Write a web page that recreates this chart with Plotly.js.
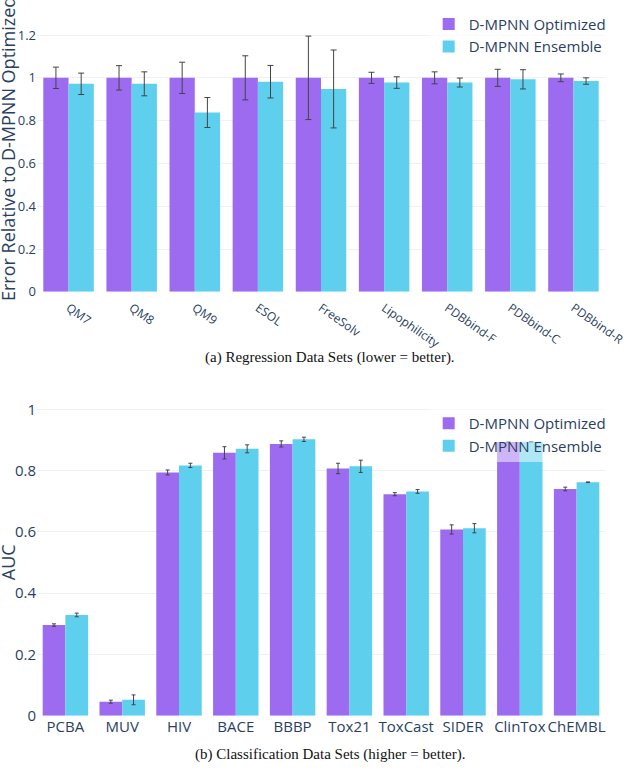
<!DOCTYPE html>
<html>
<head>
<meta charset="utf-8">
<script src="https://cdn.plot.ly/plotly-3.0.1.min.js"></script>
<style>
  body { margin: 0; background: #fff; }
  #myDiv { width: 625px; height: 768px; }
</style>
</head>
<body>
<div id="myDiv"></div>
<script>
// (a) regression data sets, error relative to D-MPNN optimized
var reg_sets = ["QM7", "QM8", "QM9", "ESOL", "FreeSolv",
        "Lipophilicity", "PDBbind-F", "PDBbind-C", "PDBbind-R"]
var reg_opt = [1, 1, 1, 1, 1, 1, 1, 1, 1]
var reg_opt_err = [0.05, 0.057, 0.073, 0.103, 0.195, 0.026, 0.028, 0.04, 0.018]
var reg_ens = [0.972, 0.972, 0.838, 0.982, 0.948, 0.978, 0.978, 0.993, 0.985]
var reg_ens_err = [0.05, 0.056, 0.07, 0.076, 0.182, 0.027, 0.021, 0.045, 0.015]

// (b) classification data sets, AUC
var cls_sets = ["PCBA", "MUV", "HIV", "BACE", "BBBP",
        "Tox21", "ToxCast", "SIDER", "ClinTox", "ChEMBL"]
var cls_opt = [0.296, 0.046, 0.794, 0.858, 0.887, 0.807, 0.723, 0.608, 0.893, 0.74]
var cls_opt_err = [0.004, 0.005, 0.008, 0.02, 0.01, 0.017, 0.005, 0.015, 0, 0.006]
var cls_ens = [0.329, 0.052, 0.817, 0.871, 0.902, 0.814, 0.732, 0.612, 0.894, 0.762]
var cls_ens_err = [0.006, 0.016, 0.007, 0.013, 0.007, 0.02, 0.006, 0.015, 0, 0.001]

var purple = '#9d6bf0'
var cyan = '#5ecfec'

function errbar(arr, w) {
    return {type: 'data', array: arr, visible: true,
            color: '#444', thickness: 1, width: w}
}

var trace1 = {
    type: 'bar', name: 'D-MPNN Optimized',
    x: reg_sets, y: reg_opt, error_y: errbar(reg_opt_err, 3),
    marker: {color: purple},
    xaxis: 'x', yaxis: 'y', legend: 'legend'
}
var trace2 = {
    type: 'bar', name: 'D-MPNN Ensemble',
    x: reg_sets, y: reg_ens, error_y: errbar(reg_ens_err, 3),
    marker: {color: cyan},
    xaxis: 'x', yaxis: 'y', legend: 'legend'
}
var trace3 = {
    type: 'bar', name: 'D-MPNN Optimized',
    x: cls_sets, y: cls_opt, error_y: errbar(cls_opt_err, 2),
    marker: {color: purple},
    xaxis: 'x2', yaxis: 'y2', legend: 'legend2'
}
var trace4 = {
    type: 'bar', name: 'D-MPNN Ensemble',
    x: cls_sets, y: cls_ens, error_y: errbar(cls_ens_err, 2),
    marker: {color: cyan},
    xaxis: 'x2', yaxis: 'y2', legend: 'legend2'
}

var data = [trace1, trace2, trace3, trace4]

var captionFont = {family: 'Liberation Serif, serif', size: 15, color: '#111'}
var titleFont = {family: 'Open Sans, sans-serif', size: 18, color: '#2a3f5f'}

var layout = {
    width: 625, height: 768,
    margin: {l: 37, r: 20, t: 0, b: 0},
    font: {family: 'Open Sans, sans-serif', color: '#2a3f5f'},
    barmode: 'group',
    bargap: 0.2, bargroupgap: 0,
    paper_bgcolor: '#fff', plot_bgcolor: '#fff',
    xaxis: {
        domain: [0, 1], anchor: 'y',
        tickangle: 35, tickfont: {size: 12}, ticklabelstandoff: 6,
        showgrid: false, automargin: false
    },
    yaxis: {
        domain: [0.620, 0.992], anchor: 'x',
        range: [0, 1.335], dtick: 0.2,
        tickfont: {size: 13}, gridcolor: '#eef0f3',
        zeroline: false, automargin: false
    },
    xaxis2: {
        domain: [0, 1], anchor: 'y2',
        tickangle: 0, tickfont: {size: 15},
        showgrid: false, automargin: false
    },
    yaxis2: {
        domain: [0.068, 0.487], anchor: 'x2',
        range: [0, 1.05], dtick: 0.2,
        tickfont: {size: 15}, gridcolor: '#eef0f3',
        zeroline: false, automargin: false
    },
    legend: {
        x: 1.01, xanchor: 'right', y: 0.99, yanchor: 'top',
        bgcolor: 'rgba(255,255,255,0.5)', font: {size: 15}
    },
    legend2: {
        x: 1.01, xanchor: 'right', y: 0.47, yanchor: 'top',
        bgcolor: 'rgba(255,255,255,0.5)', font: {size: 15}
    },
    annotations: [
        {text: 'Error Relative to D-MPNN Optimized', textangle: -90,
         xref: 'paper', yref: 'paper', x: -0.051, y: 0.806,
         xanchor: 'center', yanchor: 'middle',
         showarrow: false, font: titleFont},
        {text: 'AUC', textangle: -90,
         xref: 'paper', yref: 'paper', x: -0.051, y: 0.268,
         xanchor: 'center', yanchor: 'middle',
         showarrow: false, font: titleFont},
        {text: '(a) Regression Data Sets (lower = better).',
         xref: 'paper', yref: 'paper', x: 0.516, y: 0.535,
         xanchor: 'center', yanchor: 'middle',
         showarrow: false, font: captionFont},
        {text: '(b) Classification Data Sets (higher = better).',
         xref: 'paper', yref: 'paper', x: 0.516, y: 0.017,
         xanchor: 'center', yanchor: 'middle',
         showarrow: false, font: captionFont}
    ]
}

Plotly.newPlot('myDiv', data, layout, {displayModeBar: false})
</script>
</body>
</html>
